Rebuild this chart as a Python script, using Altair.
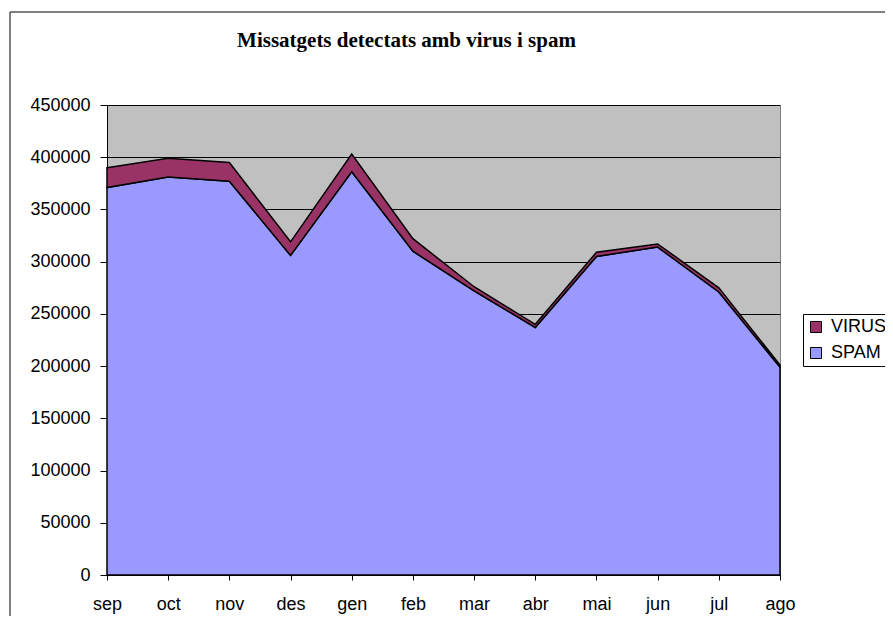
import altair as alt
import pandas as pd

months = ["sep", "oct", "nov", "des", "gen", "feb", "mar", "abr", "mai", "jun", "jul", "ago"]
spam = [371000, 381000, 377000, 306000, 386000, 310000, 272000, 237000, 305000, 314000, 271000, 199000]
virus = [19000, 18000, 18000, 13000, 17000, 12000, 4000, 3000, 4000, 3000, 4000, 2000]
series = ["VIRUS", "SPAM"]
colors = ["#993366", "#9999FF"]
y_ticks = [0, 50000, 100000, 150000, 200000, 250000, 300000, 350000, 400000, 450000]
title_text = "Missatgets detectats amb virus i  spam"

rows = []
for i, m in enumerate(months):
    rows.append({"mes": m, "serie": "SPAM", "valor": spam[i], "ord": 0})
    rows.append({"mes": m, "serie": "VIRUS", "valor": virus[i], "ord": 1})
df = pd.DataFrame(rows)

areas = alt.Chart(df).mark_area(stroke="black", strokeWidth=1.5, opacity=1).encode(
    x=alt.X("mes:N", sort=months, scale=alt.Scale(type="point", padding=0),
            axis=alt.Axis(title=None, labelAngle=0, grid=False, tickSize=5,
                          labelPadding=15, domainColor="black", tickColor="black")),
    y=alt.Y("valor:Q", stack="zero", scale=alt.Scale(domain=[0, 450000], nice=False),
            axis=alt.Axis(title=None, values=y_ticks, format="d", grid=True,
                          gridColor="black", gridWidth=1, gridOpacity=1,
                          tickSize=7, labelPadding=10, domainColor="black",
                          tickColor="black")),
    color=alt.Color("serie:N", scale=alt.Scale(domain=series, range=colors),
                    legend=alt.Legend(title=None, orient="none", legendX=696, legendY=209)),
    order=alt.Order("ord:Q"),
)

frame = alt.Chart(pd.DataFrame({"a": [0]})).mark_rect(
    fill=None, stroke="black", strokeWidth=1
).encode(
    x=alt.value(-97), x2=alt.value(800), y=alt.value(-93), y2=alt.value(560)
)

chart = alt.layer(frame, areas).properties(
    width=673,
    height=470,
    autosize="none",
    background="white",
    padding={"left": 99, "top": 97, "right": 105, "bottom": 41},
    title=alt.Title(title_text, font="Liberation Serif", fontSize=21, fontWeight="bold",
                    color="black", anchor="middle", frame="group", dx=-37,
                    baseline="alphabetic", offset=0, dy=56),
).configure_view(
    fill="#C0C0C0", stroke="#808080", strokeWidth=1
).configure_axis(
    labelFont="Liberation Sans", labelFontSize=18, labelColor="black"
).configure_legend(
    strokeColor="black", fillColor="white", padding=4, symbolType="square",
    symbolSize=121, symbolStrokeColor="black", symbolStrokeWidth=1, symbolOpacity=1,
    labelFont="Liberation Sans", labelFontSize=18, labelColor="black",
    labelOffset=6, rowPadding=8
)

chart.save("out.html", embed_options={"renderer": "svg", "actions": False})
